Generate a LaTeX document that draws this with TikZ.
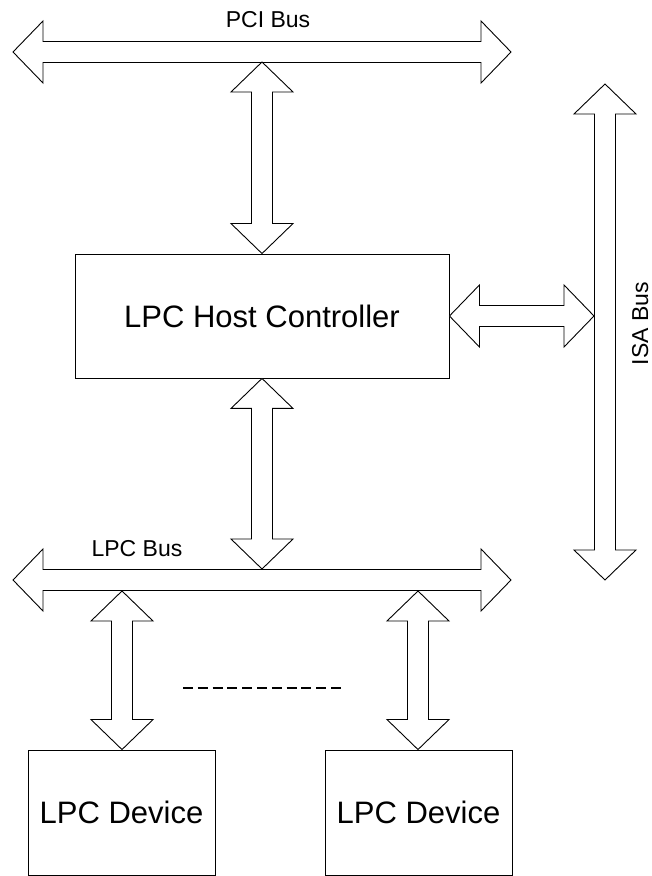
\documentclass[tikz,border=0pt]{standalone}
\usepackage{fontspec}
\setmainfont{Liberation Sans}
\usetikzlibrary{calc}
\tikzset{
  busline/.style={draw=black, line width=0.9pt, fill=white, line join=miter},
  box/.style={draw=black, line width=0.9pt, inner sep=0pt, fill=white, font=\fontsize{31}{36}\selectfont},
  lbl/.style={inner sep=0pt, font=\fontsize{23}{27}\selectfont},
  dots/.style={line width=2.4pt, dash pattern=on 10pt off 4.8pt},
}
% vertical double arrow from top point #1 to bottom point #2
\newcommand{\vbus}[2]{\path[busline] let \p1=(#1), \p2=(#2) in
  (\x1,\y1) -- (\x1+31pt,\y1-30pt) -- (\x1+10.5pt,\y1-30pt) -- (\x1+10.5pt,\y2+30pt)
  -- (\x1+31pt,\y2+30pt) -- (\x1,\y2) -- (\x1-31pt,\y2+30pt) -- (\x1-10.5pt,\y2+30pt)
  -- (\x1-10.5pt,\y1-30pt) -- (\x1-31pt,\y1-30pt) -- cycle;}
% horizontal double arrow from left point #1 to right point #2
\newcommand{\hbus}[2]{\path[busline] let \p1=(#1), \p2=(#2) in
  (\x1,\y1) -- (\x1+30pt,\y1+31pt) -- (\x1+30pt,\y1+10.5pt) -- (\x2-30pt,\y1+10.5pt)
  -- (\x2-30pt,\y1+31pt) -- (\x2,\y1) -- (\x2-30pt,\y1-31pt) -- (\x2-30pt,\y1-10.5pt)
  -- (\x1+30pt,\y1-10.5pt) -- (\x1+30pt,\y1-31pt) -- cycle;}
\begin{document}
\begin{tikzpicture}[x=1pt,y=1pt]
\useasboundingbox (0,0) rectangle (652,876);

% bus end points
\coordinate (pciL) at (13,824);
\coordinate (pciR) at (511,824);
\coordinate (pciB) at (262,814);
\coordinate (lpcL) at (13,296);
\coordinate (lpcR) at (511,296);
\coordinate (lpcT) at (262,307);
\coordinate (lpcB1) at (122,285);
\coordinate (lpcB2) at (418,285);
\coordinate (isaT) at (605,792);
\coordinate (isaB) at (605,296);
\coordinate (isaL) at (594,560);

% nodes
\node[box, minimum width=374pt, minimum height=124pt] (host) at (262,560) {LPC Host Controller};
\node[box, minimum width=187pt, minimum height=125pt] (dev1) at (121.5,63.5) {LPC Device};
\node[box, minimum width=187pt, minimum height=125pt] (dev2) at (418.5,63.5) {LPC Device};

% buses
\hbus{pciL}{pciR}
\hbus{lpcL}{lpcR}
\vbus{isaT}{isaB}

% connectors
\vbus{pciB}{host.north}
\vbus{host.south}{lpcT}
\hbus{host.east}{isaL}
\vbus{lpcB1}{dev1.north}
\vbus{lpcB2}{dev2.north}

% labels
\node[lbl, anchor=base] (pcilbl) at (268,848) {PCI Bus};
\node[lbl, anchor=base] (lpclbl) at (137,319) {LPC Bus};
\node[lbl, rotate=90, anchor=base] (isalbl) at (648,552.5) {ISA Bus};

% ellipsis between devices
\coordinate (dotsL) at (183,188);
\coordinate (dotsR) at (341,188);
\draw[dots] (dotsL) -- (dotsR);
\end{tikzpicture}
\end{document}
